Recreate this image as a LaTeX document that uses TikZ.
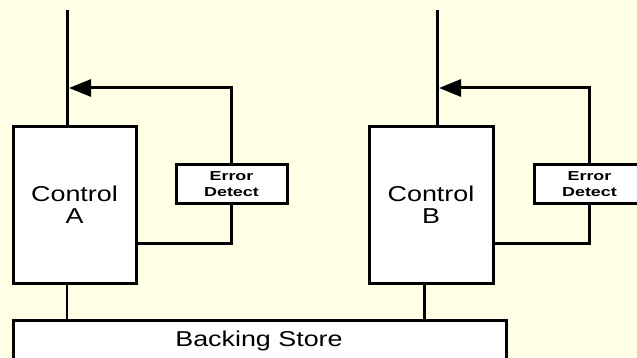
\documentclass[tikz,border=0pt]{standalone}
\usepackage{fontspec}
\setmainfont{Liberation Sans}
\newfontfamily\widefont[FakeStretch=1.25]{Liberation Sans}
\newcommand{\errline}[1]{\scalebox{1.38}[1]{\bfseries #1}}
\usetikzlibrary{arrows.meta}
\definecolor{bgyellow}{RGB}{255,255,230}
\tikzset{
  blockbox/.style={draw=black, fill=white, line width=3pt, inner sep=0pt, outer sep=0pt},
  ctrltext/.style={font=\widefont\fontsize{21.5}{22}\selectfont, align=center},
  errtext/.style={font=\fontsize{13}{16}\selectfont, align=center},
  wire/.style={line width=3pt},
  thinwire/.style={line width=1.6pt},
  fbarrow/.style={line width=3pt, -{Triangle[length=22pt, width=17pt]}}
}
\begin{document}
\begin{tikzpicture}[x=1pt, y=-1pt]
\fill[bgyellow] (0,0) rectangle (637,358);
\useasboundingbox (0,0) rectangle (637,358);

% Backing store
\node[blockbox, minimum width=493pt, minimum height=54pt] (BS) at (259.5,347) {};
\node[ctrltext] (BSt) at (259,340.5) {Backing Store};

% Control A side
\node[blockbox, minimum width=123pt, minimum height=156pt, ctrltext] (A) at (74.5,205) {Control\\A};
\node[blockbox, minimum width=111pt, minimum height=39pt, errtext] (EA) at (231.5,184.5) {\errline{Error}\\\errline{Detect}};
\coordinate (topA) at (67,10);
\coordinate (tipA) at (69,88);
\coordinate (jA) at (0,243);
\coordinate (botA) at (67,0);
\draw[wire] (topA) -- (topA |- A.north);
\draw[fbarrow] (EA.north) |- (tipA);
\draw[wire] (EA.south) |- (A.east |- jA);
\draw[thinwire] (botA |- A.south) -- (botA |- BS.north);

% Control B side
\node[blockbox, minimum width=124pt, minimum height=156pt, ctrltext] (B) at (431,205) {Control\\B};
\node[blockbox, minimum width=111pt, minimum height=39pt, errtext] (EB) at (589.5,184.5) {\errline{Error}\\\errline{Detect}};
\coordinate (topB) at (437,10);
\coordinate (tipB) at (439,88);
\coordinate (jB) at (0,243);
\coordinate (botB) at (424,0);
\draw[wire] (topB) -- (topB |- B.north);
\draw[fbarrow] (EB.north) |- (tipB);
\draw[wire] (EB.south) |- (B.east |- jB);
\draw[wire] (botB |- B.south) -- (botB |- BS.north);
\end{tikzpicture}
\end{document}
